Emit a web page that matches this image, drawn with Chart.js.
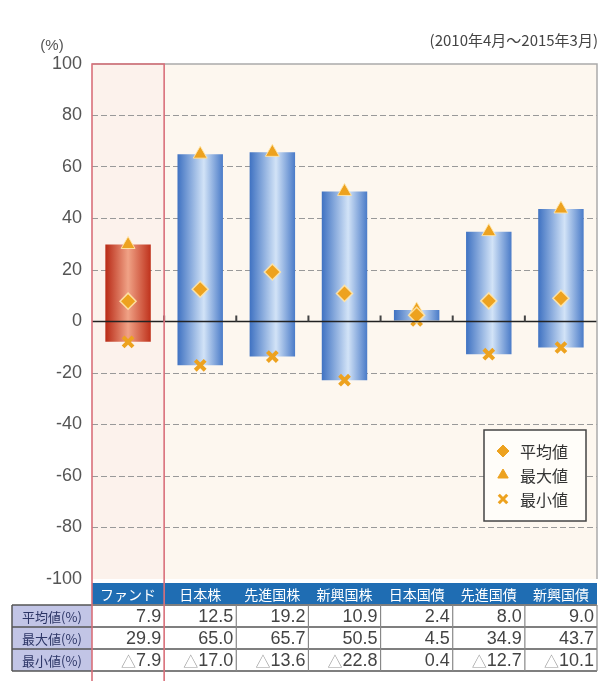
<!DOCTYPE html>
<html>
<head>
<meta charset="utf-8">
<script src="https://cdn.jsdelivr.net/npm/chart.js@4.4.0/dist/chart.umd.min.js"></script>
<style>
  body { margin: 0; background: #fff; }
  #wrap { width: 608px; height: 681px; position: relative; }
</style>
</head>
<body>
<div id="wrap"><canvas id="myChart" width="608" height="681"></canvas></div>
<script>
const categories = ['ファンド', '日本株', '先進国株', '新興国株', '日本国債', '先進国債', '新興国債'];
const meanValues = [7.9, 12.5, 19.2, 10.9, 2.4, 8.0, 9.0];
const maxValues = [29.9, 65.0, 65.7, 50.5, 4.5, 34.9, 43.7];
const minValues = [-7.9, -17.0, -13.6, -22.8, 0.4, -12.7, -10.1];
const rowLabels = ['平均値(%)', '最大値(%)', '最小値(%)'];
const legendLabels = ['平均値', '最大値', '最小値'];
const periodLabel = '(2010年4月～2015年3月)';
const unitLabel = '(%)';

const orange = '#eda21f';
const barPct = 0.63;
const jpFont = '"Noto Sans CJK JP", "Noto Sans", sans-serif';
const numFont = '"Liberation Sans", Arial, sans-serif';

function barGradient(ctx) {
    const chart = ctx.chart;
    const isFund = ctx.dataIndex === 0;
    if (!chart.chartArea) return isFund ? '#d0482e' : '#6a95d4';
    const xs = chart.scales.x;
    const cx = xs.getPixelForValue(ctx.dataIndex);
    const w = xs.width / categories.length * barPct;
    const g = chart.ctx.createLinearGradient(cx - w / 2, 0, cx + w / 2, 0);
    if (isFund) {
        g.addColorStop(0, '#b82a16');
        g.addColorStop(0.5, '#f0a286');
        g.addColorStop(1, '#bf321c');
    } else {
        g.addColorStop(0, '#3f72c2');
        g.addColorStop(0.58, '#d2e3f7');
        g.addColorStop(1, '#4a7bc8');
    }
    return g;
}

const decorPlugin = {
    id: 'decor',
    beforeDraw(chart) {
        const { ctx, chartArea: a, scales: { x } } = chart;
        const catW = a.width / categories.length;
        ctx.save();
        ctx.fillStyle = '#fdf7ef';
        ctx.fillRect(a.left, a.top, a.width, a.height);
        ctx.fillStyle = '#fcf2ec';
        ctx.fillRect(x.getPixelForValue(0) - catW / 2, a.top, catW, a.height);
        ctx.restore();
    },
    afterDatasetsDraw(chart) {
        // zero line over bars
        const { ctx, chartArea: a, scales: { x, y } } = chart;
        const catW = a.width / categories.length;
        const y0 = y.getPixelForValue(0);
        ctx.save();
        ctx.strokeStyle = '#222';
        ctx.lineWidth = 1.5;
        ctx.beginPath();
        ctx.moveTo(a.left, y0);
        ctx.lineTo(a.right, y0);
        ctx.stroke();
        ctx.fillStyle = '#444';
        for (let i = 1; i < categories.length; i++) {
            const bx = x.getPixelForValue(i) - catW / 2;
            ctx.fillRect(bx - 1, y0 - 6, 2, 6);
        }
        ctx.restore();
    },
    afterDraw(chart) {
        const { ctx, chartArea: a, scales: { x } } = chart;
        const catW = a.width / categories.length;
        const H = chart.height;
        ctx.save();

        // plot frame
        ctx.strokeStyle = '#aaa';
        ctx.lineWidth = 1.5;
        ctx.beginPath();
        ctx.moveTo(a.left, a.top);
        ctx.lineTo(a.right, a.top);
        ctx.lineTo(a.right, a.bottom);
        ctx.stroke();

        // texts at top
        ctx.fillStyle = '#444';
        ctx.font = '15px ' + jpFont;
        ctx.textAlign = 'right';
        ctx.textBaseline = 'middle';
        ctx.fillText(periodLabel, 598, 40);
        ctx.fillStyle = '#555';
        ctx.font = '15px ' + numFont;
        ctx.textAlign = 'center';
        ctx.fillText(unitLabel, 52, 46);

        // table
        const hTop = a.bottom + 4, hBot = hTop + 21;
        const rowH = 22;
        ctx.fillStyle = '#1f6db3';
        ctx.fillRect(a.left, hTop, a.width, hBot - hTop);
        ctx.fillStyle = '#fff';
        ctx.font = '14px ' + jpFont;
        ctx.textAlign = 'center';
        categories.forEach((c, i) => {
            ctx.fillText(c, x.getPixelForValue(i), (hTop + hBot) / 2 + 1);
        });

        const rows = [meanValues, maxValues, minValues];
        const labL = 12;
        rows.forEach((vals, r) => {
            const top = hBot + 1 + r * rowH;
            ctx.fillStyle = '#c2c5e6';
            ctx.fillRect(labL, top, a.left - labL, rowH);
            ctx.fillStyle = '#fff';
            ctx.fillRect(a.left, top, a.width, rowH);
            ctx.fillStyle = '#2c3566';
            ctx.font = '13px ' + jpFont;
            ctx.textAlign = 'center';
            ctx.fillText(rowLabels[r], (labL + a.left) / 2, top + rowH / 2 + 1);
            ctx.font = '18px ' + numFont;
            ctx.textAlign = 'right';
            vals.forEach((v, i) => {
                const right = x.getPixelForValue(i) + catW / 2 - 3;
                const num = Math.abs(v).toFixed(1);
                ctx.fillStyle = '#444';
                ctx.fillText(num, right, top + rowH / 2 + 1);
                if (v < 0) {
                    const nw = ctx.measureText(num).width;
                    ctx.fillStyle = '#999';
                    ctx.font = '15px ' + jpFont;
                    ctx.fillText('△', right - nw, top + rowH / 2 + 1);
                    ctx.font = '18px ' + numFont;
                }
            });
        });
        // table lines
        const tBot = hBot + 1 + rows.length * rowH;
        ctx.strokeStyle = '#555';
        ctx.lineWidth = 1.5;
        for (let r = 0; r <= rows.length; r++) {
            const yy = hBot + 1 + r * rowH;
            ctx.beginPath();
            ctx.moveTo(labL, yy);
            ctx.lineTo(a.right, yy);
            ctx.stroke();
        }
        ctx.beginPath();
        ctx.moveTo(labL, hBot + 1);
        ctx.lineTo(labL, tBot);
        ctx.stroke();
        ctx.strokeStyle = '#888';
        ctx.lineWidth = 1.2;
        for (let i = 2; i <= categories.length; i++) {
            const bx = x.getPixelForValue(i) - catW / 2;
            ctx.beginPath();
            ctx.moveTo(bx, hBot + 1);
            ctx.lineTo(bx, tBot);
            ctx.stroke();
        }

        // fund column red frame
        const fl = x.getPixelForValue(0) - catW / 2;
        const fr = fl + catW;
        ctx.strokeStyle = '#d9707a';
        ctx.lineWidth = 1.6;
        ctx.beginPath();
        ctx.moveTo(fl, H);
        ctx.lineTo(fl, a.top);
        ctx.lineTo(fr, a.top);
        ctx.lineTo(fr, H);
        ctx.stroke();

        // legend box
        const lx = 484, ly = 430, lw = 102, lh = 91;
        ctx.fillStyle = '#fffdf9';
        ctx.fillRect(lx, ly, lw, lh);
        ctx.strokeStyle = '#444';
        ctx.lineWidth = 1.5;
        ctx.strokeRect(lx, ly, lw, lh);
        const styles = ['rectRot', 'triangle', 'crossRot'];
        legendLabels.forEach((t, k) => {
            const yy = ly + 21 + k * 24;
            const opts = { pointStyle: styles[k], radius: 6, borderWidth: k === 2 ? 3 : 1 };
            ctx.fillStyle = orange;
            ctx.strokeStyle = orange;
            ctx.lineWidth = opts.borderWidth;
            Chart.helpers.drawPoint(ctx, opts, lx + 19, yy);
            ctx.fillStyle = '#333';
            ctx.font = '16px ' + jpFont;
            ctx.textAlign = 'left';
            ctx.fillText(t, lx + 36, yy + 1);
        });
        ctx.restore();
    }
};

const chartContext = document.getElementById('myChart').getContext('2d');
const chartConfig = {
    type: 'bar',
    data: {
        labels: categories,
        datasets: [
            {
                type: 'line',
                label: legendLabels[0],
                data: meanValues,
                showLine: false,
                pointStyle: 'rectRot',
                pointRadius: 8,
                pointBackgroundColor: orange,
                pointBorderColor: 'rgba(255,230,170,0.9)',
                pointBorderWidth: 1.5,
                order: 0
            },
            {
                type: 'line',
                label: legendLabels[1],
                data: maxValues,
                showLine: false,
                pointStyle: 'triangle',
                pointRadius: 8,
                pointBackgroundColor: orange,
                pointBorderColor: 'rgba(255,230,170,0.9)',
                pointBorderWidth: 1,
                order: 0
            },
            {
                type: 'line',
                label: legendLabels[2],
                data: minValues,
                showLine: false,
                pointStyle: 'crossRot',
                pointRadius: 7,
                pointBorderColor: orange,
                pointBorderWidth: 4,
                order: 0
            },
            {
                type: 'bar',
                label: 'range',
                data: minValues.map((v, i) => [v, maxValues[i]]),
                backgroundColor: barGradient,
                borderWidth: 0,
                categoryPercentage: 1,
                barPercentage: barPct,
                order: 1
            }
        ]
    },
    options: {
        responsive: false,
        animation: false,
        layout: { padding: { top: 64, right: 4, bottom: 102, left: 0 } },
        plugins: { legend: { display: false }, tooltip: { enabled: false } },
        scales: {
            x: { display: false },
            y: {
                min: -100,
                max: 100,
                afterFit: (scale) => { scale.width = 92; },
                ticks: {
                    stepSize: 20,
                    color: '#555',
                    padding: 10,
                    font: { family: numFont, size: 18 }
                },
                border: { display: false, dash: [6, 3] },
                grid: {
                    drawTicks: false,
                    lineWidth: 1,
                    color: (c) => (c.tick && (c.tick.value === 0 || Math.abs(c.tick.value) === 100)) ? 'rgba(0,0,0,0)' : '#999'
                }
            }
        }
    },
    plugins: [decorPlugin]
};

const myChart = new Chart(chartContext, chartConfig);
</script>
</body>
</html>
